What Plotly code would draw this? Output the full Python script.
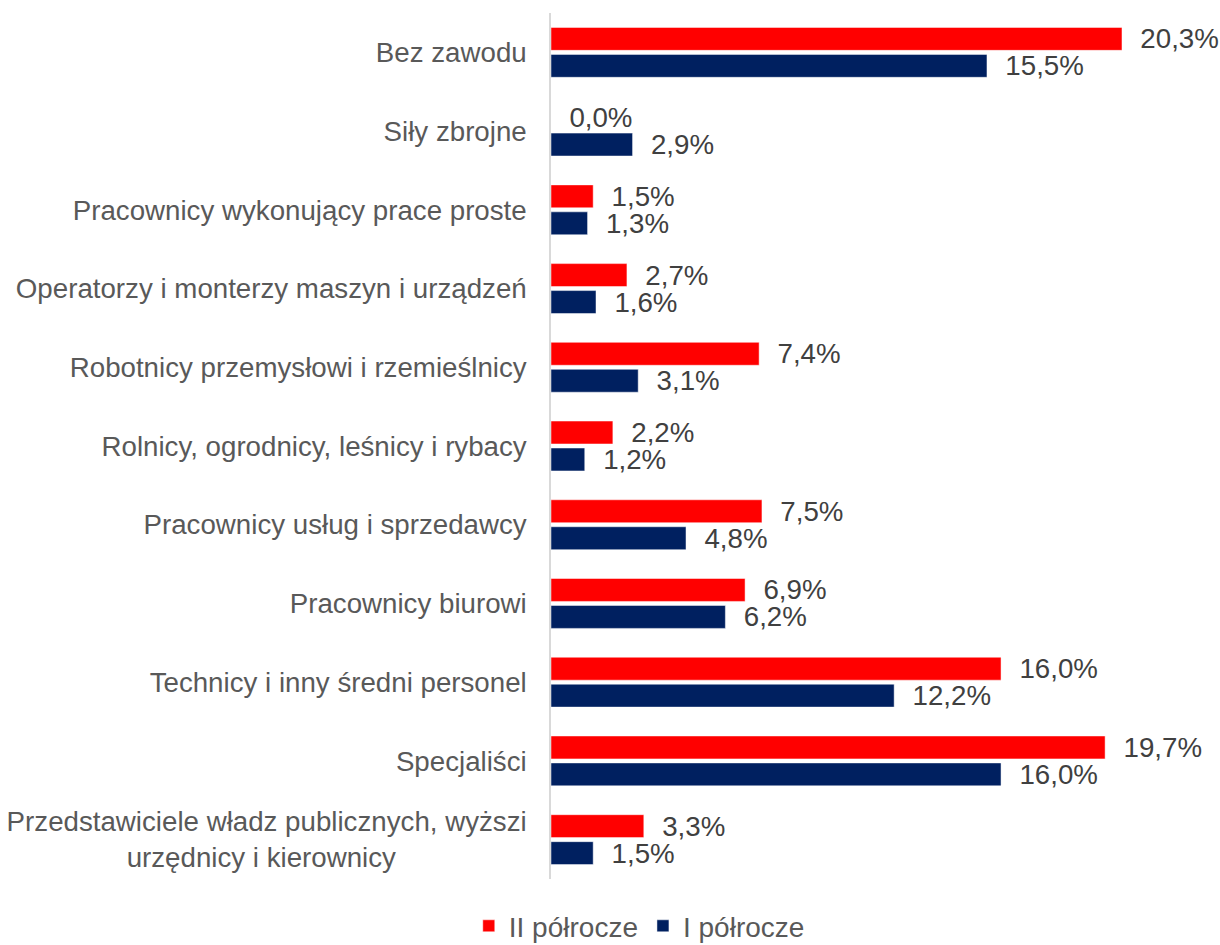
import plotly.graph_objects as go

categories = [
    "Bez zawodu",
    "Siły zbrojne",
    "Pracownicy wykonujący prace proste",
    "Operatorzy i monterzy maszyn i urządzeń",
    "Robotnicy przemysłowi i rzemieślnicy",
    "Rolnicy, ogrodnicy, leśnicy i rybacy",
    "Pracownicy usług i sprzedawcy",
    "Pracownicy biurowi",
    "Technicy i inny średni personel",
    "Specjaliści",
    "Przedstawiciele władz publicznych, wyższi<br>urzędnicy i kierownicy" + "\u00a0" * 17,
]
ii_polrocze = [20.3, 0.0, 1.5, 2.7, 7.4, 2.2, 7.5, 6.9, 16.0, 19.7, 3.3]
i_polrocze = [15.5, 2.9, 1.3, 1.6, 3.1, 1.2, 4.8, 6.2, 12.2, 16.0, 1.5]
series_names = ["II półrocze", "I półrocze"]
colors = ["#FF0000", "#002060"]


def fmt(v):
    return "\u00a0\u00a0" + f"{v:.1f}%".replace(".", ",")


fig = go.Figure()
for name, vals, col in zip(series_names, [ii_polrocze, i_polrocze], colors):
    fig.add_trace(go.Bar(
        y=categories, x=vals, name=name, orientation="h",
        marker=dict(color=col, line=dict(color="rgba(255,255,255,0.6)", width=0.8)),
        text=[fmt(v) for v in vals], textposition="outside", constraintext="none",
        textfont=dict(size=27.7, color="#404040", family="Liberation Sans, Arial"),
        cliponaxis=False,
    ))

fig.update_layout(
    width=1220, height=945,
    barmode="group", bargap=0.315, bargroupgap=0.15,
    plot_bgcolor="white", paper_bgcolor="white",
    font=dict(family="Liberation Sans, Arial", color="#595959", size=27.7),
    margin=dict(l=551, r=8, t=13, b=66, autoexpand=False),
    xaxis=dict(range=[0, 23.5], visible=False, showgrid=False, zeroline=False),
    yaxis=dict(
        autorange="reversed", showline=True, linecolor="#D9D9D9", linewidth=1.5,
        ticks="", showgrid=False, ticklabelstandoff=17, automargin=False,
        tickfont=dict(size=27.7, color="#595959"),
    ),
    showlegend=True,
    legend=dict(
        orientation="h", xref="container", yref="container",
        x=0.524, xanchor="center", y=0.02, yanchor="middle",
        font=dict(size=28, color="#595959"), itemwidth=30,
    ),
)

fig.write_html(
    "out.html",
    config={"displayModeBar": False},
    post_script="document.body.style.margin='0';document.body.style.overflow='hidden';",
)
